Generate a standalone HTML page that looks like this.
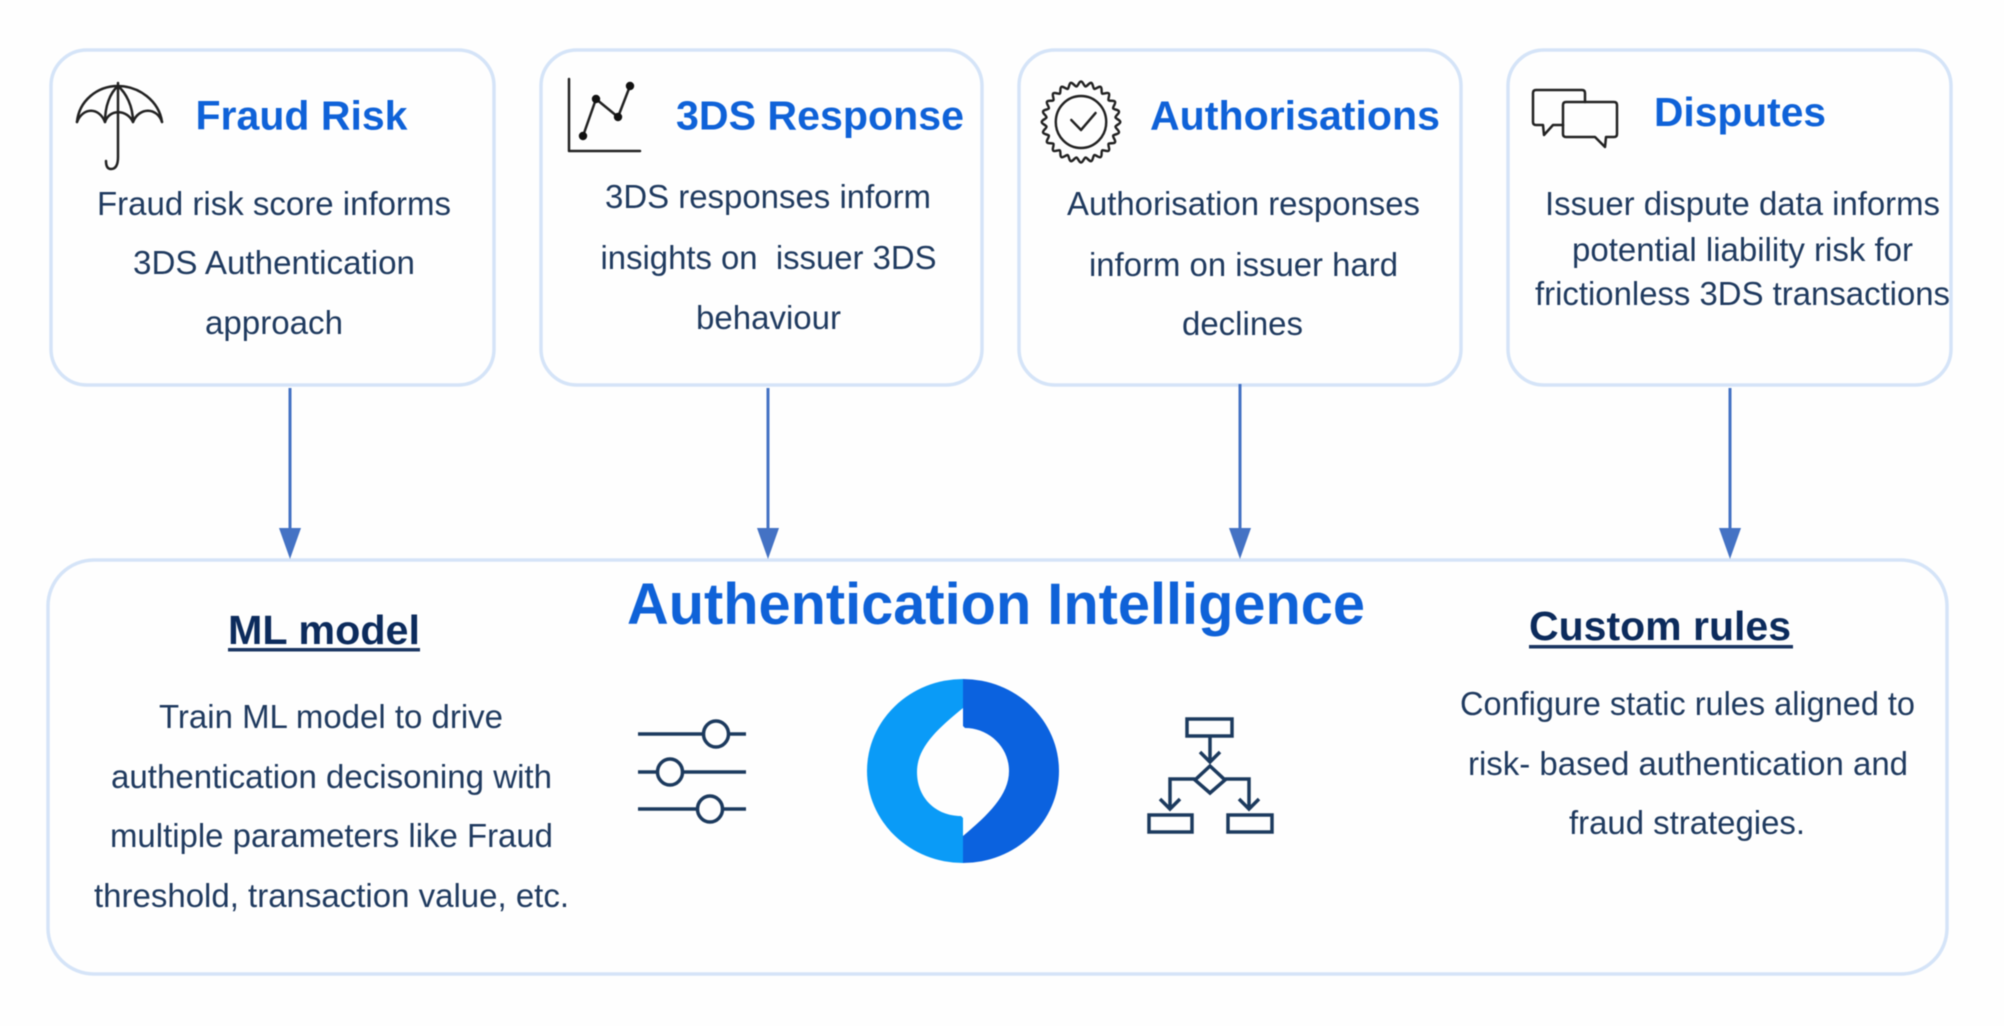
<!DOCTYPE html>
<html>
<head>
<meta charset="utf-8">
<title>Authentication Intelligence</title>
<style>
html,body{margin:0;padding:0;background:#fefefe;width:2004px;height:1026px;overflow:hidden}
svg{display:block;filter:blur(0.5px)}
text{font-family:"Liberation Sans",sans-serif;white-space:pre}
.b{font-size:33px;fill:#1f3a5f}
.t{font-size:41px;font-weight:bold;fill:#0f62d8}
.h{font-size:41px;font-weight:bold;fill:#0c2b5c}
.card{fill:#fefefe;stroke:#d5e4f8;stroke-width:3.5}
.ic{fill:none;stroke:#222;stroke-width:2.5;stroke-linejoin:round;stroke-linecap:round}
.nv{fill:none;stroke:#1c3a5e;stroke-width:3.5}
</style>
</head>
<body>
<svg width="2004" height="1026" viewBox="0 0 2004 1026" xmlns="http://www.w3.org/2000/svg">
<rect x="0" y="0" width="2004" height="1026" fill="#fefefe"/>
<rect class="card" x="51" y="50" width="443" height="335" rx="36" ry="36"/>
<rect class="card" x="541" y="50" width="441" height="335" rx="36" ry="36"/>
<rect class="card" x="1019" y="50" width="442" height="335" rx="36" ry="36"/>
<rect class="card" x="1508" y="50" width="443" height="335" rx="36" ry="36"/>
<rect class="card" x="48" y="560" width="1899" height="414" rx="46" ry="46"/>

<g stroke="#4472c4" stroke-width="3" fill="#4472c4">
<line x1="290" y1="388" x2="290" y2="530"/><polygon stroke="none" points="279,528 301,528 290,559"/>
<line x1="768" y1="388" x2="768" y2="530"/><polygon stroke="none" points="757,528 779,528 768,559"/>
<line x1="1240" y1="384" x2="1240" y2="530"/><polygon stroke="none" points="1229,528 1251,528 1240,559"/>
<line x1="1730" y1="388" x2="1730" y2="530"/><polygon stroke="none" points="1719,528 1741,528 1730,559"/>
</g>

<text class="t" x="195.5" y="129.5" textLength="212" lengthAdjust="spacingAndGlyphs">Fraud Risk</text>
<text class="b" x="97" y="215" textLength="354" lengthAdjust="spacingAndGlyphs">Fraud risk score informs</text>
<text class="b" x="133" y="274" textLength="282" lengthAdjust="spacingAndGlyphs">3DS Authentication</text>
<text class="b" x="205" y="334" textLength="138" lengthAdjust="spacingAndGlyphs">approach</text>

<text class="t" x="676" y="129.5" textLength="288" lengthAdjust="spacingAndGlyphs">3DS Response</text>
<text class="b" x="605" y="208" textLength="326" lengthAdjust="spacingAndGlyphs">3DS responses inform</text>
<text class="b" x="600.5" y="269" textLength="336" lengthAdjust="spacingAndGlyphs">insights on  issuer 3DS</text>
<text class="b" x="696" y="329" textLength="145" lengthAdjust="spacingAndGlyphs">behaviour</text>

<text class="t" x="1150" y="129.5" textLength="290" lengthAdjust="spacingAndGlyphs">Authorisations</text>
<text class="b" x="1067" y="215" textLength="353" lengthAdjust="spacingAndGlyphs">Authorisation responses</text>
<text class="b" x="1089" y="276" textLength="309" lengthAdjust="spacingAndGlyphs">inform on issuer hard</text>
<text class="b" x="1182" y="335" textLength="121" lengthAdjust="spacingAndGlyphs">declines</text>

<text class="t" x="1654" y="126" textLength="172" lengthAdjust="spacingAndGlyphs">Disputes</text>
<text class="b" x="1545" y="215" textLength="395" lengthAdjust="spacingAndGlyphs">Issuer dispute data informs</text>
<text class="b" x="1572" y="261" textLength="341" lengthAdjust="spacingAndGlyphs">potential liability risk for</text>
<text class="b" x="1535" y="305" textLength="415" lengthAdjust="spacingAndGlyphs">frictionless 3DS transactions</text>

<text x="627" y="624" textLength="738" lengthAdjust="spacingAndGlyphs" style="font-size:58px;font-weight:bold;fill:#0f62d8">Authentication Intelligence</text>

<text class="h" x="228" y="644" textLength="192" lengthAdjust="spacingAndGlyphs">ML model</text>
<rect x="228" y="648" width="192" height="3.5" fill="#1a3562"/>
<text class="b" x="159" y="728" textLength="344" lengthAdjust="spacingAndGlyphs">Train ML model to drive</text>
<text class="b" x="111" y="788" textLength="441" lengthAdjust="spacingAndGlyphs">authentication decisoning with</text>
<text class="b" x="110" y="847" textLength="443" lengthAdjust="spacingAndGlyphs">multiple parameters like Fraud</text>
<text class="b" x="94" y="907" textLength="475" lengthAdjust="spacingAndGlyphs">threshold, transaction value, etc.</text>

<text class="h" x="1529" y="640" textLength="262" lengthAdjust="spacingAndGlyphs">Custom rules</text>
<rect x="1529" y="645" width="264" height="3.5" fill="#1a3562"/>
<text class="b" x="1460" y="715" textLength="455" lengthAdjust="spacingAndGlyphs">Configure static rules aligned to</text>
<text class="b" x="1468" y="775" textLength="440" lengthAdjust="spacingAndGlyphs">risk- based authentication and</text>
<text class="b" x="1569" y="834" textLength="236" lengthAdjust="spacingAndGlyphs">fraud strategies.</text>

<!-- umbrella -->
<g class="ic" transform="translate(-1 1)">
<path d="M119 82 L119 156 Q119 168 112 168 Q107 168 107 160"/>
<path d="M78 121 C80 100 98 85 119 85 C140 85 160 100 163 121"/>
<path d="M78 121 C84 106 100 106 106 121 C110 108 128 108 134 121 C140 106 158 106 163 121"/>
<path d="M106 121 C106 105 111 92 119 85 C127 92 134 105 134 121"/>
</g>

<!-- chart -->
<g transform="translate(-2 0)">
<g class="ic">
<path d="M571 79 V151 H642" stroke-width="2.5"/>
<path d="M585 136 L598 99 L620 117 L632 86"/>
</g>
<g fill="#111">
<circle cx="585" cy="136" r="4.2"/><circle cx="598" cy="99" r="4.2"/><circle cx="620" cy="117" r="4.2"/><circle cx="632" cy="86" r="4.2"/>
</g>
</g>

<!-- badge -->
<defs><path id="tooth" d="M-4.9 -35.6 C-3 -35.6 -2.2 -40.5 0 -40.5 C2.2 -40.5 3 -35.6 4.9 -35.6"/></defs>
<g class="ic" transform="translate(1081 122) scale(.97 1)" stroke-width="2">
<use href="#tooth" transform="rotate(0)"/><use href="#tooth" transform="rotate(15)"/><use href="#tooth" transform="rotate(30)"/><use href="#tooth" transform="rotate(45)"/><use href="#tooth" transform="rotate(60)"/><use href="#tooth" transform="rotate(75)"/><use href="#tooth" transform="rotate(90)"/><use href="#tooth" transform="rotate(105)"/><use href="#tooth" transform="rotate(120)"/><use href="#tooth" transform="rotate(135)"/><use href="#tooth" transform="rotate(150)"/><use href="#tooth" transform="rotate(165)"/><use href="#tooth" transform="rotate(180)"/><use href="#tooth" transform="rotate(195)"/><use href="#tooth" transform="rotate(210)"/><use href="#tooth" transform="rotate(225)"/><use href="#tooth" transform="rotate(240)"/><use href="#tooth" transform="rotate(255)"/><use href="#tooth" transform="rotate(270)"/><use href="#tooth" transform="rotate(285)"/><use href="#tooth" transform="rotate(300)"/><use href="#tooth" transform="rotate(315)"/><use href="#tooth" transform="rotate(330)"/><use href="#tooth" transform="rotate(345)"/>
<circle cx="0" cy="0" r="26"/>
<path d="M-10 -2 L0 8 L15 -9"/>
</g>

<!-- bubbles -->
<g class="ic" stroke-width="3" transform="translate(-9 0)">
<path d="M1594 102 V93 Q1594 90 1591 90 H1545 Q1542 90 1542 93 V122 Q1542 125 1545 125 H1552 L1553 135 L1562 125 H1572"/>
<path d="M1575 102 H1623 Q1626 102 1626 105 V134 Q1626 137 1623 137 H1615 L1614 147 L1604 137 H1575 Q1572 137 1572 134 V105 Q1572 102 1575 102 Z"/>
</g>

<!-- sliders -->
<g transform="translate(-3 0)">
<g class="nv" stroke-width="4">
<line x1="641" y1="734" x2="749" y2="734"/>
<line x1="641" y1="772" x2="749" y2="772"/>
<line x1="641" y1="809" x2="749" y2="809"/>
</g>
<g fill="#fefefe" stroke="#1c3a5e" stroke-width="3.5">
<ellipse cx="719" cy="734" rx="12.5" ry="13"/>
<ellipse cx="673" cy="772" rx="12.5" ry="13"/>
<ellipse cx="713" cy="809" rx="12.5" ry="13"/>
</g>
</g>

<!-- ring -->
<g transform="translate(-4 0)">
<path d="M967 679 A96 92 0 0 0 967 863 Z" fill="#0a9bf7"/>
<path d="M967 679 A96 92 0 0 1 967 863 Z" fill="#0b62df"/>
<path d="M967 708 C940 730 921 748 921 772 C921 798 940 816 965 816 L967 818 V836 C992 815 1013 795 1013 771 C1013 746 992 728 969 728 L967 726 Z" fill="#fefefe"/>
</g>

<!-- flowchart -->
<g class="nv" transform="translate(-5 0)">
<rect x="1192" y="719" width="45" height="17"/>
<path d="M1215 736 V761 M1205 752 L1215 762 L1225 752"/>
<polygon points="1215,766 1230,780 1215,793 1200,780"/>
<path d="M1200 779 H1175 V809 M1165 799 L1175 809 L1185 799"/>
<path d="M1230 779 H1254 V809 M1244 799 L1254 809 L1264 799"/>
<rect x="1154" y="815" width="43" height="17"/>
<rect x="1233" y="815" width="44" height="17"/>
</g>
</svg>
</body>
</html>
